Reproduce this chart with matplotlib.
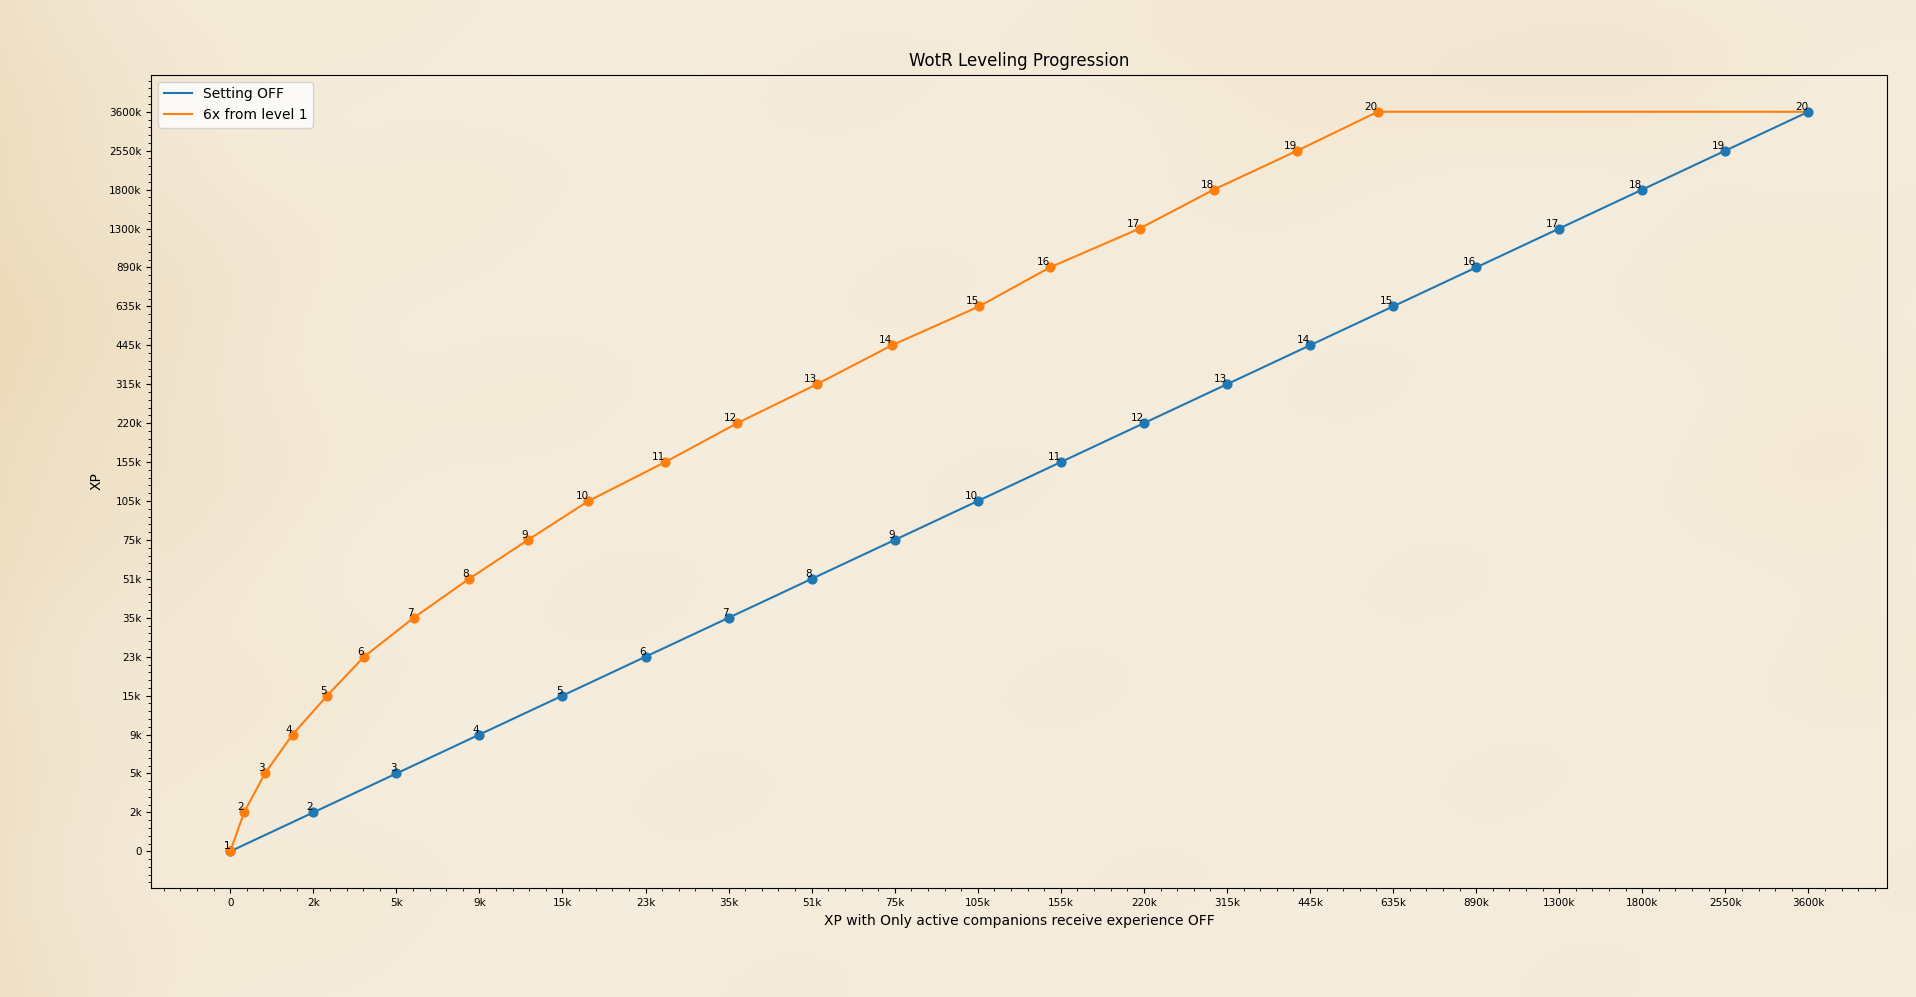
import matplotlib
matplotlib.use('Agg')
import matplotlib.pyplot as plt
import numpy as np
from matplotlib.ticker import AutoMinorLocator

# Уровни и пороги опыта
levels = list(range(1, 21))
xp_off = [0, 2000, 5000, 9000, 15000, 23000, 35000, 51000, 75000, 105000,
          155000, 220000, 315000, 445000, 635000, 890000, 1300000, 1800000,
          2550000, 3600000]
# опыт при множителе 6x (порог / 6)
xp_6x = [0, 333, 833, 1500, 2500, 3833, 5833, 8500, 12500, 17500,
         25833, 36667, 52500, 74167, 105833, 148333, 216667, 300000,
         425000, 600000]
tick_labels = ['0', '2k', '5k', '9k', '15k', '23k', '35k', '51k', '75k', '105k',
               '155k', '220k', '315k', '445k', '635k', '890k', '1300k', '1800k',
               '2550k', '3600k']

idx = np.arange(len(xp_off))


def to_pos(v):
    # кусочно-линейная шкала: каждый порог на равном шаге
    return np.interp(v, xp_off, idx)


fig = plt.figure(figsize=(19.16, 9.97), dpi=100)

# фон "пергамент"
bg = fig.add_axes([0, 0, 1, 1], zorder=-10)
h, w = 250, 480
yy, xx = np.mgrid[0:1:h * 1j, 0:1:w * 1j]
f = 0.55 * np.exp(-xx / 0.07) + 0.35 * np.exp(-((xx - 0.02) ** 2 / 0.02 + (yy - 0.35) ** 2 / 0.05))
f += 0.25 * np.exp(-((xx - 0.75) ** 2 / 0.03 + (yy - 0.05) ** 2 / 0.01))
f += 0.06 * (np.sin(xx * 23 + yy * 11) * np.sin(yy * 17 - xx * 7) + 1)
f += 0.12 * np.exp(-((xx - 0.98) ** 2 / 0.01 + (yy - 0.4) ** 2 / 0.05))
f = np.clip(f, 0, 1)
light = np.array([245, 237, 222]) / 255.0
dark = np.array([236, 218, 184]) / 255.0
img = light * (1 - f[..., None]) + dark * f[..., None]
bg.imshow(img, aspect='auto', extent=[0, 1, 0, 1], interpolation='bilinear')
bg.axis('off')

ax = fig.add_axes([0.079, 0.109, 0.906, 0.816])
ax.set_facecolor('none')

x_off = to_pos(xp_off)
y_lvl = to_pos(xp_off)
x_6x = to_pos(xp_6x)

# линии (после 20 уровня опыт дальше не растёт)
ax.plot(x_off, y_lvl, '-', color='#1f77b4', label='Setting OFF', zorder=2)
ax.plot(list(x_6x) + [x_off[-1]], list(y_lvl) + [y_lvl[-1]], '-',
        color='#ff7f0e', label='6x from level 1', zorder=2)
# точки
ax.scatter(x_off, y_lvl, color='#1f77b4', s=40, zorder=3)
ax.scatter(x_6x, y_lvl, color='#ff7f0e', s=40, zorder=3)

for lv, xo, x6, yl in zip(levels, x_off, x_6x, y_lvl):
    ax.text(xo, yl, str(lv), ha='right', va='bottom', fontsize=7.5, zorder=4)
    ax.text(x6, yl, str(lv), ha='right', va='bottom', fontsize=7.5, zorder=4)

ax.set_xticks(idx)
ax.set_xticklabels(tick_labels)
ax.set_yticks(idx)
ax.set_yticklabels(tick_labels)
ax.xaxis.set_minor_locator(AutoMinorLocator(5))
ax.yaxis.set_minor_locator(AutoMinorLocator(5))
ax.tick_params(labelsize=7.5)

ax.set_title('WotR Leveling Progression', fontsize=12)
ax.set_xlabel('XP with Only active companions receive experience OFF')
ax.set_ylabel('XP')
ax.legend(loc='upper left')

fig.savefig('out.png', dpi=100)
plt.close(fig)
